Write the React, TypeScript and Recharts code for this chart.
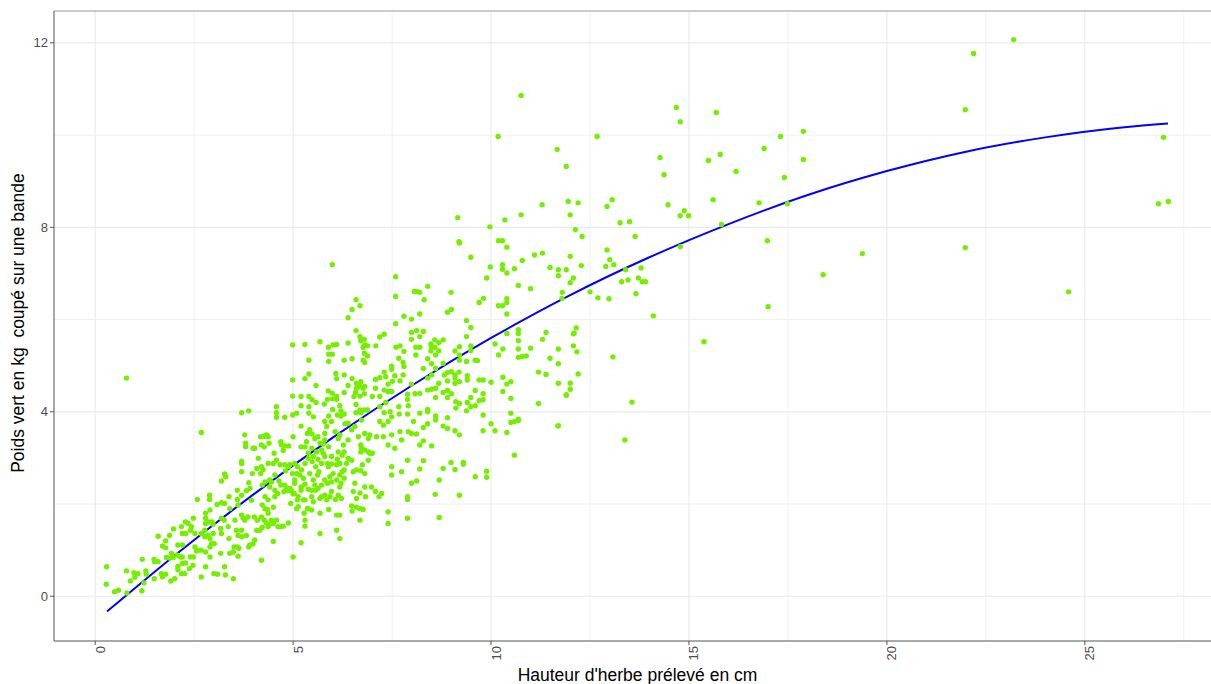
import { ComposedChart, Scatter, Line, XAxis, YAxis, ReferenceLine, Label } from 'recharts';

// hauteur d'herbe (cm), poids vert (kg) par bande
const releves: [number, number][] = [
  [0.29, 0.64], [0.28, 0.26], [0.49, 0.10], [0.59, 0.13], [0.79, 0.55], [0.80, 0.07], [0.89, 0.33], [0.98, 0.51],
  [1.08, 0.49], [1.00, 0.41], [1.19, 0.80], [1.18, 0.12], [1.28, 0.55], [1.29, 0.48], [1.23, 0.29], [1.49, 0.80],
  [1.50, 0.75], [1.49, 0.38], [1.59, 0.75], [1.59, 1.30], [1.70, 1.09], [1.78, 1.05], [1.78, 1.20], [1.67, 0.49],
  [1.70, 0.42], [1.78, 0.48], [1.88, 1.32], [1.98, 1.46], [1.93, 0.93], [1.80, 0.84], [1.88, 0.83], [1.97, 0.84],
  [2.01, 0.38], [1.91, 0.33], [2.09, 1.11], [2.20, 1.11], [2.08, 0.89], [2.15, 0.85], [2.20, 0.85], [2.28, 1.61],
  [2.18, 1.51], [2.20, 1.36], [2.29, 1.36], [2.35, 1.58], [2.43, 1.51], [2.48, 1.69], [2.41, 1.43], [2.52, 1.36],
  [2.09, 0.65], [2.09, 0.58], [2.20, 0.71], [2.28, 0.72], [2.18, 0.49], [2.26, 0.49], [2.38, 0.60], [2.47, 0.67],
  [2.48, 0.85], [2.40, 0.85], [2.56, 0.98], [2.52, 1.07], [2.60, 1.00], [2.68, 1.00], [2.68, 0.42], [2.58, 2.10],
  [2.68, 3.55], [2.79, 0.96], [2.79, 0.64], [2.90, 0.85], [2.79, 1.80], [2.79, 1.69], [2.89, 2.19], [2.89, 2.10],
  [2.90, 1.87], [2.79, 1.58], [2.87, 1.61], [2.77, 1.43], [2.68, 1.36], [2.77, 1.29], [2.85, 1.32], [2.90, 1.25],
  [2.95, 1.61], [2.98, 1.56], [2.98, 1.36], [2.94, 1.14], [2.90, 1.07], [3.01, 1.14], [3.00, 0.49], [3.09, 0.48],
  [3.08, 1.99], [3.19, 2.03], [3.27, 2.01], [3.19, 1.69], [3.26, 1.65], [3.17, 1.47], [3.19, 1.36], [3.17, 0.93],
  [3.27, 0.64], [3.29, 0.46], [3.30, 2.59], [3.27, 2.65], [3.19, 2.50], [3.38, 2.16], [3.40, 1.90], [3.36, 1.51],
  [3.38, 1.25], [3.40, 0.93], [3.49, 0.96], [3.49, 0.38], [3.59, 2.30], [3.59, 2.10], [3.61, 1.98], [3.53, 1.65],
  [3.57, 1.43], [3.61, 1.32], [3.59, 1.07], [3.61, 0.87], [3.70, 2.93], [3.70, 2.88], [3.70, 2.70], [3.70, 2.19],
  [3.70, 1.76], [3.70, 1.43], [3.71, 1.29], [3.74, 1.69], [3.78, 3.50], [3.80, 3.32], [3.80, 3.24], [3.82, 2.29],
  [3.88, 2.46], [3.91, 2.34], [3.78, 1.65], [3.82, 1.32], [3.88, 1.07], [3.95, 2.08], [3.99, 3.21], [3.97, 2.66],
  [4.02, 1.72], [3.91, 1.11], [3.99, 1.14], [3.86, 1.72], [3.63, 1.04], [3.51, 1.07], [0.79, 4.73], [3.70, 3.98],
  [3.88, 4.02],
  [4.03, 3.21], [4.18, 3.46], [4.20, 3.28], [4.27, 3.47], [4.33, 3.50], [4.37, 3.46], [4.39, 3.32], [4.27, 3.24],
  [4.12, 2.99], [4.08, 2.77], [4.20, 2.81], [4.18, 2.66], [4.24, 2.75], [4.29, 2.48], [4.22, 2.41], [4.37, 2.88],
  [4.41, 2.52], [4.50, 2.88], [4.52, 3.10], [4.58, 2.95], [4.54, 2.63], [4.45, 2.48], [4.41, 2.37], [4.54, 2.30],
  [4.64, 2.50], [4.69, 3.35], [4.71, 3.28], [4.75, 3.16], [4.79, 3.26], [4.89, 3.26], [4.67, 2.85], [4.79, 2.85],
  [4.88, 2.81], [4.92, 2.85], [4.81, 2.72], [4.69, 2.41], [4.79, 2.41], [4.83, 2.34], [4.88, 2.29], [4.92, 2.34],
  [4.96, 2.29], [5.00, 2.22], [5.04, 2.45], [4.77, 2.27], [4.61, 2.23], [4.54, 2.16], [4.37, 2.09], [4.29, 2.16],
  [4.22, 1.98], [4.29, 1.90], [4.35, 1.88], [4.37, 1.80], [4.50, 1.93], [4.45, 1.65], [4.50, 1.58], [4.58, 1.65],
  [4.62, 1.51], [4.69, 1.51], [4.75, 1.52], [4.88, 1.59], [4.27, 1.65], [4.33, 1.58], [4.37, 1.51], [4.44, 1.58],
  [4.20, 1.72], [4.10, 1.65], [4.08, 1.43], [4.16, 1.43], [4.22, 1.49], [4.03, 1.22], [4.50, 1.19], [4.20, 0.78],
  [5.00, 0.85], [5.20, 1.16], [5.09, 1.90], [5.13, 1.94], [5.28, 1.80], [5.30, 1.65], [5.30, 1.52], [5.38, 1.90],
  [5.47, 1.87], [5.51, 2.05], [5.47, 2.30], [5.57, 2.30], [5.68, 2.12], [5.72, 2.16], [5.80, 2.19], [5.85, 2.09],
  [5.93, 2.16], [5.97, 2.27], [6.07, 2.10], [6.14, 2.19], [6.22, 2.12], [6.18, 2.37], [6.21, 2.45], [6.10, 2.52],
  [5.97, 2.48], [5.87, 2.45], [5.68, 1.80], [5.90, 1.88], [6.10, 1.76], [6.18, 1.76], [6.10, 1.43], [6.18, 1.25],
  [5.68, 1.36], [5.30, 2.09], [5.13, 2.16], [5.04, 2.52], [5.09, 2.66], [5.21, 2.74], [5.30, 2.88], [5.38, 2.99],
  [5.48, 2.92], [5.57, 2.81], [5.62, 2.63], [5.65, 2.70], [5.72, 2.88], [5.80, 3.03], [5.87, 2.88], [5.97, 2.87],
  [6.10, 2.85], [6.18, 2.88], [6.24, 2.70], [6.29, 2.74], [6.29, 2.56], [6.48, 2.95], [6.52, 2.70], [6.60, 2.74],
  [6.52, 2.27], [6.60, 2.12], [6.69, 2.24], [6.81, 2.37], [6.83, 2.16], [6.98, 2.37], [7.08, 2.27], [7.17, 2.16],
  [7.24, 2.23], [6.48, 1.96], [6.49, 1.85], [6.60, 1.93], [6.69, 1.90], [6.77, 1.88], [6.69, 1.65], [7.40, 1.83],
  [7.40, 1.58], [7.49, 2.81], [7.49, 2.63], [7.74, 2.70], [7.89, 2.95], [7.89, 2.16], [7.89, 2.10], [7.89, 1.69],
  [7.99, 2.45], [6.56, 2.45], [6.71, 2.72], [6.81, 2.66], [6.75, 2.85], [6.90, 2.95], [6.94, 3.10], [7.00, 3.10],
  [6.90, 3.13], [6.71, 3.13], [6.73, 3.21], [6.81, 3.17], [6.94, 3.50], [6.90, 3.42], [6.81, 3.53], [6.65, 3.46],
  [6.71, 3.28], [6.39, 3.39], [6.27, 3.28], [6.29, 3.13], [6.14, 3.13], [6.24, 3.06], [6.12, 2.97], [5.97, 3.03],
  [5.90, 3.24], [5.76, 3.30], [5.80, 3.39], [5.68, 3.32], [5.63, 3.46], [5.55, 3.42], [5.48, 3.52], [5.42, 3.61],
  [5.36, 3.53], [5.34, 3.35], [5.30, 3.24], [5.38, 3.10], [5.47, 3.21], [5.59, 3.13], [5.72, 3.17], [5.76, 3.10],
  [5.80, 3.53], [5.85, 3.68], [5.80, 3.79], [5.97, 3.79], [6.06, 3.57], [6.18, 3.50], [6.31, 3.74], [6.39, 3.75],
  [6.48, 3.61], [6.56, 3.68], [6.14, 3.42], [7.19, 3.79], [7.28, 3.71], [7.40, 3.79], [7.40, 3.28], [7.49, 3.50],
  [7.57, 3.21], [7.70, 3.57], [7.74, 3.39], [7.91, 3.57], [7.99, 3.53], [8.04, 3.79], [7.28, 3.46], [7.11, 3.46],
  [6.73, 3.82], [5.20, 3.69], [5.00, 3.46], [5.20, 3.24], [5.42, 2.66], [5.51, 2.52], [5.55, 2.41], [5.30, 2.43],
  [5.21, 2.37], [5.26, 2.56], [5.17, 2.63], [5.11, 2.81], [5.04, 2.88], [4.98, 2.66], [5.03, 2.23], [4.94, 2.01],
  [5.11, 2.09], [5.20, 2.30], [5.38, 2.32], [5.47, 2.16], [5.63, 2.34], [5.72, 2.41], [5.80, 2.52], [5.93, 2.59],
  [6.01, 2.66], [6.35, 2.88], [6.39, 2.99], [6.18, 2.63], [5.89, 2.81], [5.63, 2.97], [5.51, 3.03], [5.36, 1.90],
  [5.26, 2.09],
  [8.12, 3.52], [8.29, 3.66], [8.40, 3.74], [8.60, 3.82], [8.79, 3.69], [8.90, 3.64], [9.09, 3.59], [9.20, 3.50],
  [8.20, 3.28], [8.29, 3.37], [8.50, 3.26], [8.29, 2.94], [8.20, 2.76], [8.12, 2.50], [8.79, 2.77], [8.99, 2.90],
  [9.09, 2.75], [9.30, 2.90], [9.30, 2.86], [8.69, 2.52], [9.60, 2.59], [9.89, 2.71], [9.89, 2.58], [8.59, 2.21],
  [9.20, 2.19], [8.69, 1.71], [9.80, 3.59], [10.00, 3.74], [10.10, 3.59], [10.40, 3.55], [10.50, 3.77], [10.59, 3.79],
  [10.69, 3.81], [10.59, 3.06], [11.70, 3.70],
  [5.99, 7.19], [7.59, 6.93], [7.59, 6.50], [8.06, 6.61], [6.59, 6.43], [6.69, 6.30], [6.49, 6.22], [6.39, 6.04],
  [7.59, 5.91], [7.80, 6.07], [7.99, 6.01], [7.99, 5.72], [7.99, 5.57], [6.59, 5.76], [6.69, 5.63], [6.71, 5.54],
  [6.80, 5.57], [6.77, 5.40], [6.81, 5.45], [6.88, 5.43], [6.80, 5.27], [6.88, 5.21], [6.77, 5.12], [6.81, 5.07],
  [7.19, 5.62], [7.30, 5.68], [7.09, 5.43], [7.60, 5.40], [7.70, 5.43], [7.80, 5.31], [7.67, 5.16], [7.78, 5.07],
  [7.80, 4.98], [7.49, 4.99], [7.49, 4.92], [5.68, 5.52], [5.89, 5.40], [6.01, 5.45], [6.10, 5.46], [5.90, 5.25],
  [5.99, 5.25], [5.90, 5.09], [6.29, 5.12], [6.49, 5.15], [6.39, 5.49], [4.99, 5.45], [5.30, 5.46], [5.40, 5.12],
  [4.99, 4.69], [5.30, 4.72], [5.40, 4.82], [5.58, 4.57], [6.08, 4.83], [6.10, 4.72], [6.29, 4.80], [6.49, 4.72],
  [6.39, 4.57], [6.60, 4.62], [6.71, 4.65], [6.77, 4.51], [6.81, 4.55], [6.69, 4.55], [6.60, 4.51], [6.58, 4.42],
  [6.54, 4.33], [6.69, 4.34], [6.80, 4.39], [7.00, 4.33], [7.08, 4.51], [7.08, 4.70], [7.19, 4.74], [7.30, 4.86],
  [7.34, 4.76], [7.40, 4.60], [7.51, 4.66], [7.30, 4.47], [7.40, 4.44], [7.19, 4.33], [7.49, 4.44], [7.57, 4.78],
  [7.70, 4.67], [7.78, 4.80], [7.99, 4.60], [7.89, 4.38], [7.89, 4.27], [7.91, 4.13], [5.89, 4.45], [5.99, 4.40],
  [6.10, 4.33], [6.29, 4.42], [6.00, 4.28], [6.10, 4.27], [5.79, 4.17], [5.87, 4.27], [5.58, 4.20], [5.48, 4.26],
  [5.40, 4.33], [5.20, 4.33], [4.99, 4.34], [5.40, 4.11], [5.09, 3.97], [4.99, 3.93], [4.79, 3.88], [4.58, 4.11],
  [4.58, 3.98], [4.58, 3.88], [5.20, 4.13], [5.40, 3.97], [5.51, 3.89], [6.00, 4.05], [6.18, 4.13], [6.21, 4.02],
  [6.29, 3.95], [6.59, 4.16], [6.69, 4.04], [6.59, 3.98], [6.71, 3.98], [6.80, 4.04], [6.88, 4.04], [7.19, 4.11],
  [7.34, 4.20], [7.45, 4.00], [7.30, 3.98], [7.49, 3.89], [7.67, 4.11], [7.68, 3.95], [7.89, 3.95], [5.90, 3.91],
  [6.12, 3.93], [6.21, 3.91],
  [9.20, 7.66], [9.49, 7.35], [9.89, 6.90], [10.19, 7.71], [10.29, 7.71], [10.40, 7.57], [10.29, 7.19], [10.29, 7.09],
  [10.40, 7.01], [10.59, 7.10], [10.79, 7.28], [11.10, 7.40], [11.30, 7.44], [11.49, 7.13], [11.70, 7.08], [11.90, 7.08],
  [12.00, 7.37], [11.70, 6.95], [12.00, 6.80], [12.08, 6.90], [10.69, 6.74], [11.00, 6.67], [11.80, 6.59], [11.79, 6.46],
  [8.40, 6.72], [8.12, 6.61], [8.20, 6.59], [8.31, 6.43], [8.99, 6.59], [9.70, 6.37], [9.81, 6.46], [8.90, 6.16],
  [9.00, 6.22], [8.20, 6.12], [10.40, 6.45], [10.40, 6.37], [10.29, 6.30], [10.19, 6.30], [10.40, 6.12], [9.38, 5.98],
  [9.49, 5.83], [9.38, 5.63], [8.12, 5.76], [8.29, 5.74], [8.20, 5.63], [8.10, 5.40], [8.20, 5.40], [8.58, 5.56],
  [8.68, 5.50], [8.79, 5.56], [8.48, 5.47], [8.50, 5.40], [8.58, 5.40], [8.68, 5.32], [8.48, 5.32], [8.60, 5.23],
  [8.10, 5.23], [8.40, 5.15], [8.50, 5.04], [8.29, 4.94], [8.60, 4.94], [8.79, 5.05], [9.09, 5.32], [9.20, 5.41],
  [9.49, 5.43], [9.49, 5.33], [9.20, 5.23], [9.20, 5.12], [9.38, 5.09], [9.60, 5.12], [9.66, 5.11], [9.00, 4.87],
  [8.90, 4.85], [8.82, 4.80], [8.40, 4.73], [8.50, 4.80], [8.68, 4.62], [8.90, 4.67], [9.09, 4.80], [9.19, 4.86],
  [9.09, 4.74], [9.09, 4.62], [9.20, 4.65], [9.40, 4.78], [9.40, 4.69], [9.70, 4.69], [9.80, 4.69], [10.00, 4.64],
  [10.40, 5.70], [10.69, 5.78], [10.69, 5.70], [10.69, 5.54], [10.69, 5.36], [10.79, 5.20], [10.89, 5.21], [10.69, 5.18],
  [11.00, 5.38], [11.39, 5.72], [11.30, 5.57], [11.70, 5.36], [12.08, 5.69], [12.08, 5.43], [11.49, 5.16], [11.70, 5.04],
  [11.20, 4.86], [11.39, 4.81], [11.70, 4.62], [12.00, 4.49], [11.90, 4.36], [10.30, 4.75], [10.40, 4.60], [10.50, 4.65],
  [10.30, 4.44], [10.50, 4.29], [11.20, 4.18], [10.10, 5.47], [10.30, 5.36], [10.19, 5.23], [8.20, 4.40], [8.40, 4.47],
  [8.50, 4.49], [8.60, 4.51], [8.60, 4.31], [8.79, 4.42], [8.90, 4.46], [8.90, 4.31], [9.00, 4.39], [9.11, 4.22],
  [9.20, 4.18], [9.40, 4.20], [9.49, 4.11], [9.60, 4.13], [9.60, 4.46], [9.70, 4.24], [9.80, 4.39], [9.80, 4.26],
  [9.49, 4.31], [9.80, 3.93], [9.11, 4.08], [9.38, 4.02], [8.40, 4.05], [8.40, 4.00], [8.20, 3.97], [8.60, 3.91],
  [8.90, 3.87], [10.50, 3.97], [10.69, 3.84], [8.08, 4.39],
  [10.18, 9.97], [10.76, 10.86], [9.16, 8.21], [9.19, 7.69], [9.97, 8.01], [10.35, 8.16], [10.76, 8.27], [9.98, 7.14],
  [11.29, 8.49], [11.67, 9.69], [11.90, 9.32], [12.00, 8.27], [11.95, 8.56], [12.20, 8.53], [12.30, 7.80], [12.13, 7.95],
  [12.68, 9.97], [12.93, 8.45], [13.06, 8.60], [12.93, 7.51], [13.00, 7.30], [13.10, 7.19], [13.40, 7.08], [13.26, 8.10],
  [13.64, 7.80], [13.50, 8.12], [13.46, 6.86], [13.72, 6.90], [13.79, 7.12], [13.90, 6.82], [13.66, 6.56], [14.10, 6.08],
  [13.08, 5.19], [13.38, 3.39], [13.56, 4.21], [14.27, 9.51], [14.37, 9.14], [14.47, 8.49], [14.68, 10.60], [14.78, 10.29],
  [14.78, 8.25], [14.88, 8.36], [14.99, 8.25], [14.78, 7.58], [15.38, 5.52], [15.49, 9.45], [15.61, 8.60], [15.69, 10.49],
  [15.79, 9.58], [15.82, 8.06], [16.19, 9.21], [16.77, 8.53], [16.90, 9.71], [16.98, 7.71], [17.00, 6.28], [17.31, 9.97],
  [17.41, 9.08], [17.49, 8.51], [17.89, 9.47], [17.89, 10.08], [18.39, 6.97], [19.38, 7.43], [21.98, 7.56], [21.98, 10.55],
  [22.19, 11.77], [23.20, 12.07], [24.59, 6.60], [26.99, 9.95], [26.86, 8.51], [27.11, 8.56],
  [12.20, 4.82], [12.17, 5.30], [12.10, 5.71], [12.15, 5.82], [12.00, 4.62], [11.90, 4.37], [11.69, 3.69], [12.28, 7.17],
  [12.50, 6.60], [12.70, 6.47], [12.98, 6.45], [12.90, 7.15], [13.30, 6.82], [13.82, 6.82],
];

// courbe d'ajustement
const courbeX = [0.3, 2, 4, 6, 8, 10, 12, 14, 16, 18, 20, 22, 24, 26, 27.1];
const courbeY = [-0.33, 0.88, 2.21, 3.44, 4.57, 5.6, 6.53, 7.35, 8.07, 8.7, 9.22, 9.64, 9.95, 10.17, 10.25];

const ticksX = [0, 5, 10, 15, 20, 25];
const ticksY = [0, 4, 8, 12];
const grilleMineureX = [2.5, 7.5, 12.5, 17.5, 22.5, 27.5];
const grilleMineureY = [2, 6, 10];
const domaineX: [number, number] = [-1.04, 28.44];
const domaineY: [number, number] = [-0.97, 12.69];

const points = releves.map(([x, y]) => ({ x, y }));
const courbe = courbeX.map((x, i) => ({ x, y: courbeY[i] }));

const police = 'Liberation Sans, Arial, Helvetica, sans-serif';

const TickX = (props: any) => {
  const { x, y, payload } = props;
  return (
    <text
      x={x + 9.5}
      y={y}
      transform={`rotate(-90 ${x + 9.5} ${y})`}
      textAnchor="end"
      fill="#4d4d4d"
      fontSize={13}
      fontFamily={police}
    >
      {payload.value}
    </text>
  );
};

const Point = (props: any) => <circle cx={props.cx} cy={props.cy} r={2.7} fill="#76EE00" />;

export default function App() {
  return (
    <div style={{ position: 'absolute', left: 0, top: 0, width: 1211, height: 684, overflow: 'hidden', background: '#fff' }}>
      <ComposedChart width={1221} height={684} margin={{ top: 11, right: 0, left: 0, bottom: 0 }}>
        {grilleMineureX.map((v) => (
          <ReferenceLine key={`mx${v}`} x={v} stroke="#f0f0f0" strokeWidth={1} />
        ))}
        {grilleMineureY.map((v) => (
          <ReferenceLine key={`my${v}`} y={v} stroke="#f0f0f0" strokeWidth={1} />
        ))}
        {ticksX.map((v) => (
          <ReferenceLine key={`gx${v}`} x={v} stroke="#ebebeb" strokeWidth={1.2} />
        ))}
        {ticksY.map((v) => (
          <ReferenceLine key={`gy${v}`} y={v} stroke="#ebebeb" strokeWidth={1.2} />
        ))}
        <ReferenceLine y={domaineY[1]} stroke="#9a9a9a" strokeWidth={1} />
        <XAxis
          type="number"
          dataKey="x"
          domain={domaineX}
          ticks={ticksX}
          allowDataOverflow
          height={43}
          tickSize={4}
          tickMargin={1}
          stroke="#555"
          tick={<TickX />}
        >
          <Label
            value="Hauteur d'herbe prélevé en cm"
            position="insideBottom"
            offset={3}
            style={{ fill: '#000', fontSize: 17.5, fontFamily: police }}
          />
        </XAxis>
        <YAxis
          type="number"
          dataKey="y"
          domain={domaineY}
          ticks={ticksY}
          allowDataOverflow
          width={54}
          tickSize={4}
          tickMargin={2}
          stroke="#555"
          tick={{ fill: '#4d4d4d', fontSize: 13, fontFamily: police }}
        >
          <Label
            content={(p: any) => {
              const vb = p.viewBox || { x: 0, y: 11, width: 54, height: 630 };
              const cx = vb.x + 24;
              const cy = vb.y + vb.height / 2 - 3;
              return (
                <text
                  x={cx}
                  y={cy}
                  transform={`rotate(-90 ${cx} ${cy})`}
                  textAnchor="middle"
                  fill="#000"
                  fontSize={17.5}
                  fontFamily={police}
                  style={{ whiteSpace: 'pre' }}
                >
                  Poids vert en kg  coupé sur une bande
                </text>
              );
            }}
          />
        </YAxis>
        <Scatter data={points} dataKey="y" shape={<Point />} isAnimationActive={false} />
        <Line
          data={courbe}
          dataKey="y"
          type="monotone"
          stroke="#0000ff"
          strokeWidth={2}
          dot={false}
          activeDot={false}
          isAnimationActive={false}
        />
      </ComposedChart>
    </div>
  );
}
